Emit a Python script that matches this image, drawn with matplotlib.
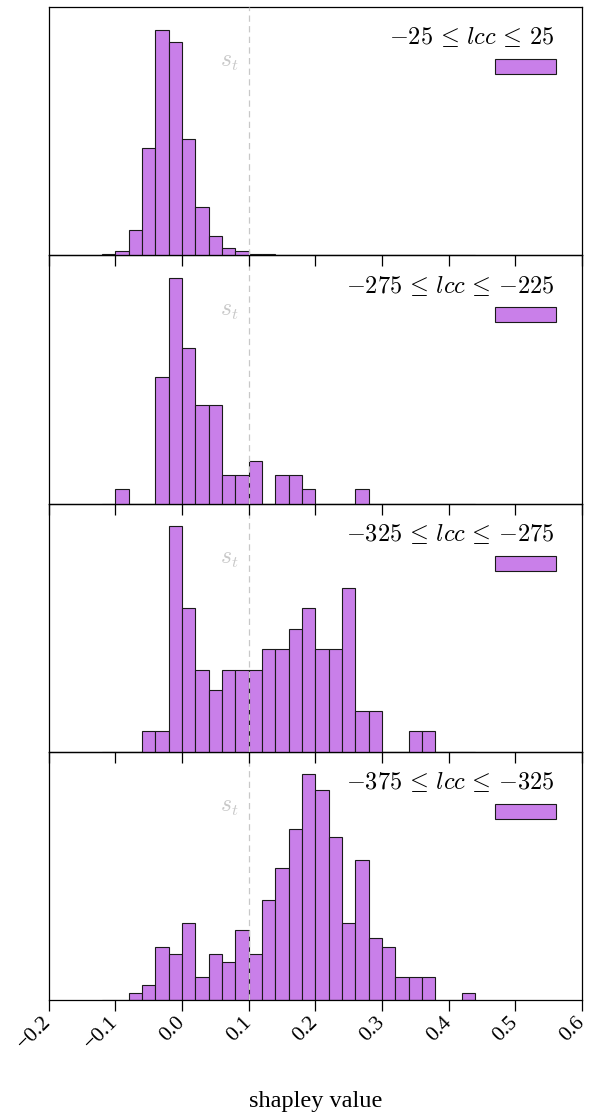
import numpy as np
import matplotlib
matplotlib.use('Agg')
import matplotlib.pyplot as plt
from matplotlib.patches import Rectangle

plt.rcParams['font.family'] = 'Liberation Serif'
plt.rcParams['mathtext.fontset'] = 'cm'

# left edges of the histogram bins (width 0.02)
bin_left = [-0.12, -0.10, -0.08, -0.06, -0.04, -0.02, 0.00, 0.02, 0.04, 0.06,
            0.08, 0.10, 0.12, 0.14, 0.16, 0.18, 0.20, 0.22, 0.24, 0.26,
            0.28, 0.30, 0.32, 0.34, 0.36, 0.38, 0.40, 0.42]
bin_width = 0.02

# bar heights, one list per lcc range
h_25 = [1, 3, 17, 71, 150, 142, 77, 32, 13, 5, 3, 1, 1, 0.3,
        0, 0, 0, 0, 0, 0, 0, 0, 0, 0, 0, 0, 0, 0]
h_275 = [0, 1, 0, 0, 9, 16, 11, 7, 7, 2, 2, 3, 0, 2,
         2, 1, 0, 0, 0, 1, 0, 0, 0, 0, 0, 0, 0, 0]
h_325 = [0, 0, 0, 1, 1, 11, 7, 4, 3, 4, 4, 4, 5, 5,
         6, 7, 5, 5, 8, 2, 2, 0, 0, 1, 1, 0, 0, 0]
h_375 = [0, 0, 1, 2, 7.1, 6.1, 10.3, 3.1, 6.1, 5.1, 9.3, 6.1, 13.3, 17.5,
         22.7, 30, 27.9, 21.7, 10.3, 18.6, 8.2, 7.1, 3.1, 3.1, 3.1, 0, 0, 1]

heights = [h_25, h_275, h_325, h_375]
labels = [r'$-25 \,\leq\, lcc \,\leq\, 25$', r'$-275 \,\leq\, lcc \,\leq\, {-}225$',
          r'$-325 \,\leq\, lcc \,\leq\, {-}275$', r'$-375 \,\leq\, lcc \,\leq\, {-}325$']
s_t = 0.1
bar_color = '#c97fe9'
xticks = [-0.2, -0.1, 0.0, 0.1, 0.2, 0.3, 0.4, 0.5, 0.6]
xticklabels = ['\u22120.2', '\u22120.1', '0.0', '0.1', '0.2', '0.3', '0.4', '0.5', '0.6']

fig = plt.figure(figsize=(5.89, 11.13), dpi=100)
gs = fig.add_gridspec(4, 1, left=0.0827, right=0.988, top=0.9937, bottom=0.1015, hspace=0)
axes = [fig.add_subplot(gs[i]) for i in range(4)]

for i, ax in enumerate(axes):
    h = heights[i]
    ax.patch.set_visible(False)
    ax.set_zorder(4 - i)
    ax.bar(bin_left, h, width=bin_width, align='edge', color=bar_color,
           edgecolor='#1a1a1a', linewidth=0.8)
    ax.axvline(s_t, color='#c8c8c8', linestyle=(0, (5, 3.5)), linewidth=0.9, zorder=3)
    ax.text(s_t - 0.015, 0.775, r'$s_t$', transform=ax.get_xaxis_transform(),
            ha='right', va='center', color='#c8c8c8', fontsize=17)
    ax.text(0.948, 0.878, labels[i], transform=ax.transAxes, ha='right',
            va='center', fontsize=17.5)
    ax.add_patch(Rectangle((0.837, 0.73), 0.114, 0.06, transform=ax.transAxes,
                           facecolor=bar_color, edgecolor='#1a1a1a', linewidth=0.8))
    ax.set_xlim(-0.2, 0.6)
    ax.set_ylim(0, max(h) * 1.1)
    ax.set_yticks([])
    ax.set_xticks(xticks)
    ax.tick_params(axis='x', direction='out', length=8, width=0.9, color='black')
    for sp in ax.spines.values():
        sp.set_linewidth(0.9)
    if i < 3:
        ax.tick_params(labelbottom=False)

ax = axes[-1]
ax.set_xticklabels(xticklabels, rotation=45, ha='right', va='center',
                   rotation_mode='anchor', fontsize=15.5)
ax.tick_params(axis='x', pad=6)
ax.set_xlabel('shapley value', fontsize=17.5, labelpad=27)

fig.savefig('out.png', dpi=100)
